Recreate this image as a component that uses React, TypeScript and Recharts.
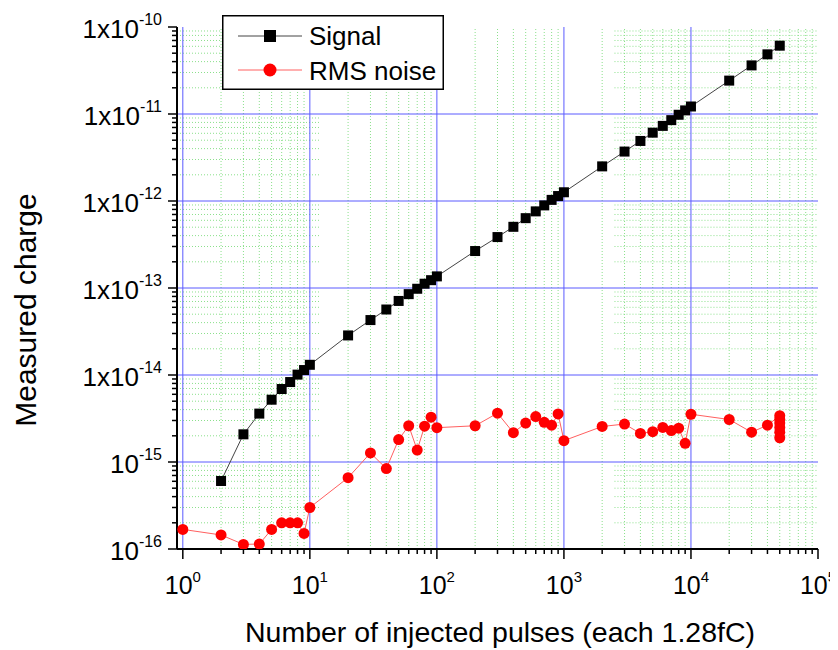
import { ComposedChart, Scatter, XAxis, YAxis, ReferenceLine, Legend, Label } from 'recharts'

const FONT = '"Liberation Sans", Arial, sans-serif'

// Signal (black squares)
const signalX = [2, 3, 4, 5, 6, 7, 8, 9, 10, 20, 30, 40, 50, 60, 70, 80, 90, 100, 200, 300, 400, 500, 600, 700, 800, 900, 1000, 2000, 3000, 4000, 5000, 6000, 7000, 8000, 9000, 10000, 20000, 30000, 40000, 50000]
const signalY = [6.05e-16, 2.08e-15, 3.6e-15, 5.2e-15, 6.9e-15, 8.3e-15, 1.01e-14, 1.14e-14, 1.31e-14, 2.85e-14, 4.28e-14, 5.66e-14, 7.1e-14, 8.5e-14, 9.8e-14, 1.12e-13, 1.23e-13, 1.36e-13, 2.66e-13, 3.85e-13, 5.05e-13, 6.35e-13, 7.6e-13, 8.9e-13, 1.03e-12, 1.14e-12, 1.26e-12, 2.5e-12, 3.7e-12, 4.9e-12, 6.1e-12, 7.3e-12, 8.5e-12, 9.8e-12, 1.1e-11, 1.22e-11, 2.42e-11, 3.62e-11, 4.85e-11, 6.1e-11]

// RMS noise (red circles)
const noiseX = [1, 2, 3, 4, 5, 6, 7, 8, 9, 10, 20, 30, 40, 50, 60, 70, 80, 90, 100, 200, 300, 400, 500, 600, 700, 800, 900, 1000, 2000, 3000, 4000, 5000, 6000, 7000, 8000, 9000, 10000, 20000, 30000, 40000, 50000, 50000, 50000, 50000, 50000, 50000]
const noiseY = [1.68e-16, 1.45e-16, 1.13e-16, 1.14e-16, 1.68e-16, 2.0e-16, 2.0e-16, 2.0e-16, 1.51e-16, 3.0e-16, 6.6e-16, 1.27e-15, 8.4e-16, 1.81e-15, 2.61e-15, 1.37e-15, 2.58e-15, 3.27e-15, 2.48e-15, 2.61e-15, 3.64e-15, 2.17e-15, 2.8e-15, 3.33e-15, 2.86e-15, 2.65e-15, 3.57e-15, 1.76e-15, 2.56e-15, 2.73e-15, 2.13e-15, 2.23e-15, 2.5e-15, 2.3e-15, 2.45e-15, 1.64e-15, 3.54e-15, 3.08e-15, 2.2e-15, 2.65e-15, 3.4e-15, 3.1e-15, 2.8e-15, 2.5e-15, 2.2e-15, 1.9e-15]

// ticks
const xMajor = [1, 10, 100, 1000, 10000, 100000]
const xMajorExp = ['0', '1', '2', '3', '4', '5']
const yMajor = [1e-16, 1e-15, 1e-14, 1e-13, 1e-12, 1e-11, 1e-10]
const yMajorLabels = [['10', '-16'], ['10', '-15'], ['1x10', '-14'], ['1x10', '-13'], ['1x10', '-12'], ['1x10', '-11'], ['1x10', '-10']]
const minorSteps = [2, 3, 4, 5, 6, 7, 8, 9]

const minorOf = (majors: number[]) => majors.slice(0, -1).flatMap((m) => minorSteps.map((k) => k * m))
const xMinor = minorOf(xMajor)
const yMinor = minorOf(yMajor)

const signalData = signalX.map((x, i) => ({ x, y: signalY[i] }))
const noiseData = noiseX.map((x, i) => ({ x, y: noiseY[i] }))

// bottom axis sits on y, ticks point down
const XTick = ({ x, y, payload }: any) => {
  const i = xMajor.indexOf(payload.value)
  if (i < 0) return <line x1={x} x2={x} y1={y} y2={y + 5} stroke="#000" strokeWidth={1.5} />
  return (
    <g>
      <line x1={x} x2={x} y1={y} y2={y + 10} stroke="#000" strokeWidth={1.5} />
      <text x={x} y={y + 45} textAnchor="middle" fontSize={25} fontFamily={FONT} fill="#000">
        10<tspan dy={-12} fontSize={15}>{xMajorExp[i]}</tspan>
      </text>
    </g>
  )
}

// left axis sits on x, ticks point left
const YTick = ({ x, y, payload }: any) => {
  const i = yMajor.indexOf(payload.value)
  if (i < 0) return <line x1={x - 5} x2={x} y1={y} y2={y} stroke="#000" strokeWidth={1.5} />
  return (
    <g>
      <line x1={x - 9} x2={x} y1={y} y2={y} stroke="#000" strokeWidth={1.5} />
      <text x={x - 15} y={y + 11} textAnchor="end" fontSize={26} fontFamily={FONT} fill="#000">
        {yMajorLabels[i][0]}<tspan dy={-13} fontSize={16}>{yMajorLabels[i][1]}</tspan>
      </text>
    </g>
  )
}

const SquareDot = ({ cx, cy }: any) => <rect x={cx - 5} y={cy - 5} width={10} height={10} fill="#000" />
const RoundDot = ({ cx, cy }: any) => <circle cx={cx} cy={cy} r={5.5} fill="#ff0000" />

const LegendBox = () => (
  <svg width={222} height={75} style={{ display: 'block' }}>
    <rect x={0.75} y={0.75} width={220.5} height={73.5} fill="#fff" stroke="#000" strokeWidth={1.5} />
    <line x1={16} x2={80} y1={21} y2={21} stroke="#444" strokeWidth={1} />
    <rect x={42} y={15} width={12} height={12} fill="#000" />
    <text x={87} y={30} fontSize={26} fontFamily={FONT} fill="#000">Signal</text>
    <line x1={16} x2={80} y1={55} y2={55} stroke="#ff6060" strokeWidth={1} />
    <circle cx={48} cy={55} r={6.5} fill="#ff0000" />
    <text x={87} y={65} fontSize={26} fontFamily={FONT} fill="#000">RMS noise</text>
  </svg>
)

const MAJOR_GRID = '#5a5aff'
const MINOR_GRID = '#8be08b'

export default function App() {
  return (
    <ComposedChart width={830} height={642} margin={{ top: 19, right: 20, bottom: 100, left: 168 }}>
      <XAxis
        dataKey="x"
        type="number"
        scale="log"
        domain={[0.9, 100000]}
        allowDataOverflow
        ticks={[...xMinor, ...xMajor]}
        interval={0}
        height={1}
        tickSize={0}
        tickMargin={0}
        tickLine={false}
        tick={(p: any) => <XTick {...p} />}
        axisLine={{ stroke: '#000', strokeWidth: 2 }}
      >
        <Label
          content={() => (
            <text x={492} y={634} textAnchor="middle" fontSize={28.5} fontFamily={FONT} fill="#000">
              Number of injected pulses (each 1.28fC)
            </text>
          )}
        />
      </XAxis>
      <YAxis
        dataKey="y"
        type="number"
        scale="log"
        domain={[1e-16, 1e-10]}
        allowDataOverflow
        ticks={[...yMinor, ...yMajor]}
        interval={0}
        width={1}
        tickSize={0}
        tickMargin={0}
        tickLine={false}
        tick={(p: any) => <YTick {...p} />}
        axisLine={{ stroke: '#000', strokeWidth: 2 }}
      >
        <Label
          content={() => (
            <text x={28} y={302} transform="rotate(-90, 28, 302)" textAnchor="middle" fontSize={30} fontFamily={FONT} fill="#000">
              Measured charge
            </text>
          )}
        />
      </YAxis>

      {xMinor.map((v) => (
        <ReferenceLine key={`vx${v}`} x={v} stroke={MINOR_GRID} strokeDasharray="1 2" />
      ))}
      {yMinor.map((v) => (
        <ReferenceLine key={`hl${v}`} segment={[{ x: 0.9, y: v }, { x: 12, y: v }]} stroke={MINOR_GRID} strokeDasharray="1 2" />
      ))}
      {yMinor.map((v) => (
        <ReferenceLine key={`hr${v}`} segment={[{ x: 2500, y: v }, { x: 100000, y: v }]} stroke={MINOR_GRID} strokeDasharray="1 2" />
      ))}
      {xMajor.slice(0, -1).map((v) => (
        <ReferenceLine key={`VX${v}`} x={v} stroke={MAJOR_GRID} strokeWidth={1} />
      ))}
      {yMajor.slice(1, -1).map((v) => (
        <ReferenceLine key={`HY${v}`} y={v} stroke={MAJOR_GRID} strokeWidth={1} />
      ))}

      <Scatter
        name="Signal"
        data={signalData}
        line={{ stroke: '#444', strokeWidth: 1 }}
        lineType="joint"
        shape={<SquareDot />}
        isAnimationActive={false}
      />
      <Scatter
        name="RMS noise"
        data={noiseData}
        line={{ stroke: '#ff6060', strokeWidth: 1 }}
        lineType="joint"
        shape={<RoundDot />}
        isAnimationActive={false}
      />
      <Legend
        layout="vertical"
        align="center"
        verticalAlign="middle"
        wrapperStyle={{ position: 'absolute', left: 214, top: 7, width: 222, height: 75 }}
        content={() => <LegendBox />}
      />
    </ComposedChart>
  )
}
